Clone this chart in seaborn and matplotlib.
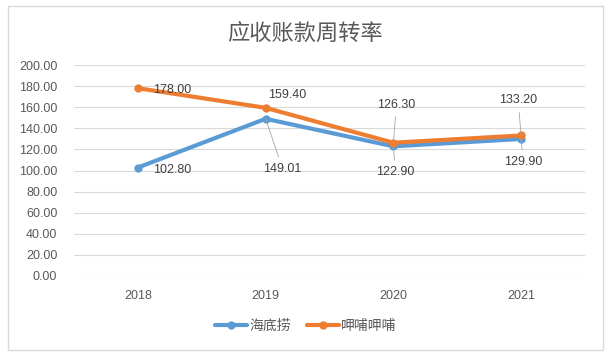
import numpy as np
import pandas as pd
import matplotlib.pyplot as plt
import matplotlib.patches as patches
import seaborn as sns

# data
years = ["2018", "2019", "2020", "2021"]
haidilao = [102.80, 149.01, 122.90, 129.90]
xiabu = [178.00, 159.40, 126.30, 133.20]
series_names = ["海底捞", "呷哺呷哺"]
colors = ["#5B9BD5", "#ED7D31"]

df = pd.DataFrame({
    "year": years * 2,
    "value": haidilao + xiabu,
    "series": [series_names[0]] * 4 + [series_names[1]] * 4,
})

sns.set_theme(style="white")
plt.rcParams['font.family'] = ['Liberation Sans', 'Noto Sans CJK SC', 'DejaVu Sans']
text_color = "#595959"

fig = plt.figure(figsize=(6.13, 3.55), dpi=100)
ax = fig.add_axes([74 / 613, 1 - 276 / 355, (585 - 74) / 613, (276 - 65) / 355])

sns.lineplot(data=df, x="year", y="value", hue="series", palette=colors,
             marker="o", markersize=6, linewidth=3, markeredgewidth=0,
             sort=False, ax=ax, legend=True)

ax.set_xlim(-0.5, 3.5)
ax.set_ylim(0, 200)
ax.set_yticks(np.arange(0, 201, 20))
ax.set_yticklabels([f"{v:.2f}" for v in np.arange(0, 201, 20)])
ax.yaxis.grid(True, color="#D9D9D9", linewidth=0.8)
ax.xaxis.grid(False)
for s in ax.spines.values():
    s.set_visible(False)
ax.tick_params(axis="y", length=0, pad=12, labelsize=9, labelcolor=text_color)
ax.tick_params(axis="x", length=0, pad=10, labelsize=9, labelcolor=text_color)
ax.set_xlabel("")
ax.set_ylabel("")
ax.set_axisbelow(True)

# data labels (offsets in pixels), leader flag
blue_offsets = [(15, -2, "left", False), (17, -50, "center", True),
                (2, -26, "center", True), (2, -23, "center", True)]
orange_offsets = [(15, -2, "left", False), (22, 13, "center", False),
                  (3, 38, "center", True), (-3, 35, "center", True)]

for vals, offs in [(haidilao, blue_offsets), (xiabu, orange_offsets)]:
    for i, (v, (dx, dy, ha, lead)) in enumerate(zip(vals, offs)):
        kw = {}
        if lead:
            kw["arrowprops"] = dict(arrowstyle="-", color="#A6A6A6", lw=0.6,
                                    shrinkA=2, shrinkB=0)
        ax.annotate(f"{v:.2f}", xy=(i, v), xytext=(dx, dy),
                    textcoords="offset pixels", ha=ha, va="center",
                    fontsize=9, color="#404040", **kw)

# legend
handles, labels = ax.get_legend_handles_labels()
ax.get_legend().remove()
fig.legend(handles, labels, loc="center", bbox_to_anchor=(306 / 613, 1 - 326 / 355),
           ncol=2, frameon=False, fontsize=10, labelcolor=text_color,
           handlelength=2.3, handletextpad=0.2, columnspacing=1.1)

# title
fig.text(305 / 613, 1 - 34 / 355, "应收账款周转率", ha="center", va="center",
         fontsize=16, color=text_color, fontweight="light")

# outer border
fig.patches.append(patches.Rectangle((8 / 613, 1 - 350 / 355), (603 - 8) / 613, (350 - 6) / 355,
                                     transform=fig.transFigure, fill=False,
                                     edgecolor="#D9D9D9", linewidth=1))

fig.savefig("out.png", dpi=100)
